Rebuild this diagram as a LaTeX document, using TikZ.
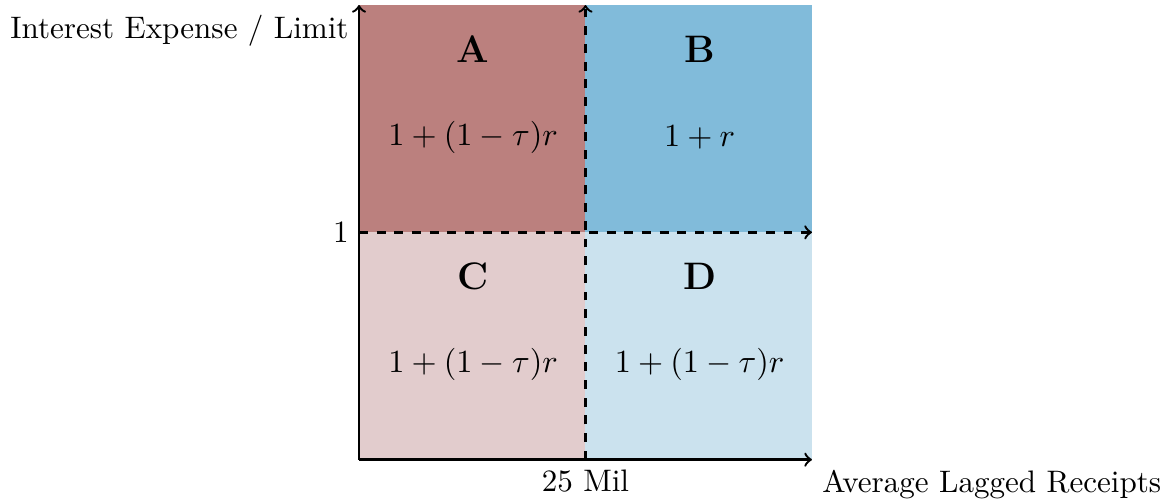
\documentclass[tikz,border=0pt]{standalone}
\usetikzlibrary{arrows}
\definecolor{regA}{RGB}{187,128,126}
\definecolor{regB}{RGB}{129,187,218}
\definecolor{regC}{RGB}{226,204,205}
\definecolor{regD}{RGB}{203,226,238}
\tikzset{
	axis/.style={->,thick},
	split/.style={->,thick,dashed},
	region/.style={font=\fontsize{13}{15}\selectfont\bfseries},
	rate/.style={font=\fontsize{11.3}{13.5}\selectfont}
}
\begin{document}
\begin{tikzpicture}[font=\fontsize{10.55}{12.6}\selectfont]
		\useasboundingbox (-4.28,-0.49) rectangle (9.68,5.48);
		\coordinate (O) at (0,0);
		\coordinate (X) at (5.4,0);
		\coordinate (Y) at (0,5.42);
		\coordinate (M) at (2.7,0);
		\coordinate (MT) at (2.7,5.42);
		\coordinate (L) at (0,2.71);
		\coordinate (R) at (5.4,2.71);
		\fill[regC] (O) rectangle (2.7,2.71);
		\fill[regD] (M) rectangle (R);
		\fill[regA] (L) rectangle (MT);
		\fill[regB] (2.7,2.71) rectangle (5.4,5.42);
		\draw[split] (M)--(MT);
		\draw[split] (L)--(R);
		\draw[axis] (O)--(X);
		\draw[axis] (O)--(Y);
		\node (A) at (1.36,4.89) [region] {A};
		\node (B) at (4.06,4.89) [region] {B};
		\node (C) at (1.36,2.18) [region] {C};
		\node (D) at (4.06,2.18) [region] {D};
		\node (A1) at (1.36,3.84) [rate] {$1+(1-\tau)r$};
		\node (B1) at (4.06,3.84) [rate] {$1+r$};
		\node (C1) at (1.36,1.13) [rate] {$1+(1-\tau)r$};
		\node (D1) at (4.06,1.13) [rate] {$1+(1-\tau)r$};
		\node (YL) at (Y) [anchor=north east] {Interest Expense / Limit};
		\node (XL) at (X) [anchor=north west] {Average Lagged Receipts};
		\node (T1) at (L) [left] {1};
		\node (T2) at (M) [below] {25 Mil};
	\end{tikzpicture}
\end{document}
